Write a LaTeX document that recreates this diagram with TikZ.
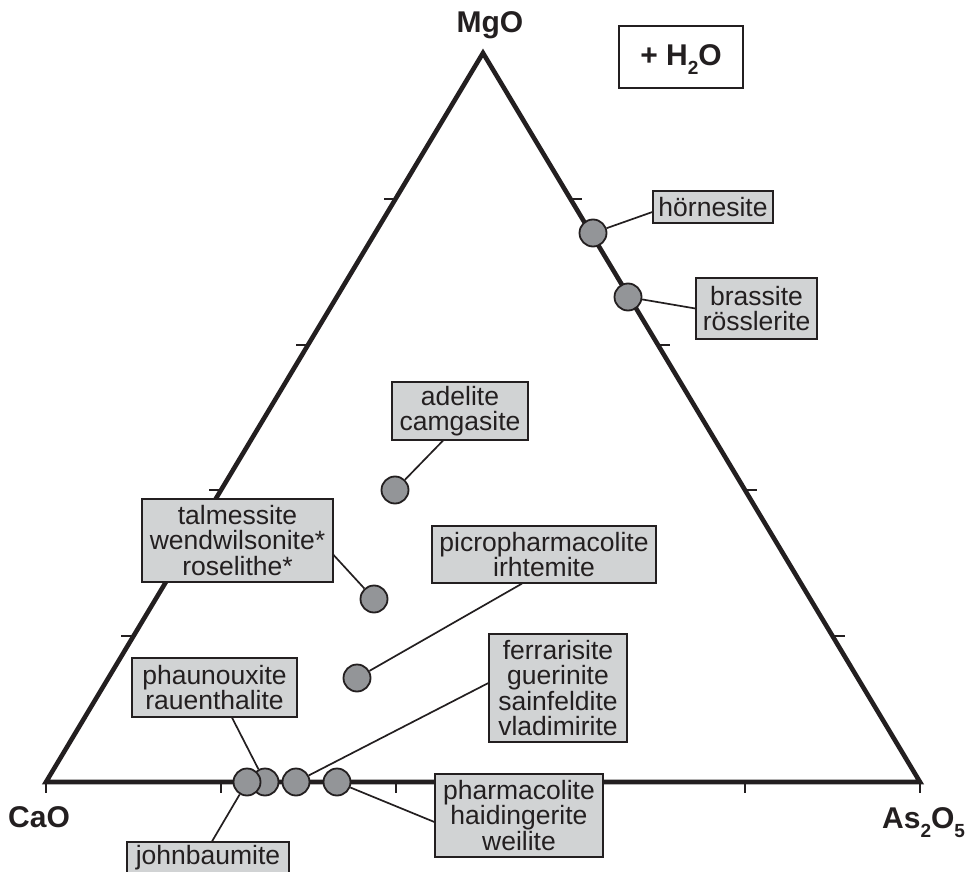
\documentclass[tikz,border=0pt]{standalone}
\usepackage{fontspec}
\setmainfont{Liberation Sans}
\usetikzlibrary{calc}
\definecolor{ink}{HTML}{231F20}
\definecolor{dotgray}{HTML}{939598}
\definecolor{boxgray}{HTML}{D1D3D4}
\newcommand\lowsub[1]{\raisebox{-9pt}{\fontsize{19}{19}\selectfont #1}}
\begin{document}
\begin{tikzpicture}[x=1pt,y=-1pt,
  lbl/.style={draw=ink, fill=boxgray, line width=1.2pt, inner sep=0pt, align=center,
              font=\fontsize{26.5}{25.5}\selectfont, text=ink},
  dot/.style={circle, draw=ink, fill=dotgray, line width=1.8pt, minimum size=27pt, inner sep=0pt},
  lead/.style={draw=ink, line width=1.7pt},
  tickmark/.style={draw=ink, line width=2pt},
  corner/.style={font=\fontsize{30}{30}\selectfont\bfseries, text=ink, inner sep=0pt}]
\useasboundingbox (0,0) rectangle (970,872);
\clip (0,0) rectangle (970,872);
% triangle
\coordinate (C) at (46,782);
\coordinate (A) at (920,782);
\coordinate (M) at (483,53);
\draw[ink, line width=4.6pt, line join=miter] (C) -- (A) -- (M) -- cycle;
\foreach \k in {0,...,5} \draw[tickmark] ($(C)!\k/5!(A)$) -- ++(0,11);
\foreach \k in {1,...,4} {
  \draw[tickmark] ($(C)!\k/5!(M)$) -- ++(-12,0);
  \draw[tickmark] ($(A)!\k/5!(M)$) -- ++(12,0);
}
% corner labels
\node[corner, anchor=base] (mgo) at (490,33) {MgO};
\node[corner, anchor=base west] (cao) at (8,827) {CaO};
\node[corner, anchor=base west] (aso) at (882,828) {As\lowsub{2}O\lowsub{5}};
\node[corner, draw=ink, line width=2pt, fill=white, minimum width=124pt, minimum height=62pt,
      text height=21pt, text depth=3pt] (water) at (681,57) {+ H\lowsub{2}O};
% data points
\node[dot] (hor) at (593,233) {};
\node[dot] (bra) at (628,297) {};
\node[dot] (ade) at (395,490) {};
\node[dot] (tal) at (374,599) {};
\node[dot] (pic) at (357,678) {};
\node[dot] (b4) at (337,782) {};
\node[dot] (b3) at (296,782) {};
\node[dot] (b2) at (265,782) {};
\node[dot] (b1) at (247,782) {};
% labels
\node[lbl, minimum width=120pt, minimum height=32pt] (hornbox) at (713,207) {hörnesite};
\node[lbl, minimum width=121pt, minimum height=61pt] (brabox) at (756.5,308.5) {brassite\\rösslerite};
\node[lbl, minimum width=136pt, minimum height=58pt] (adebox) at (460,411) {adelite\\camgasite};
\node[lbl, minimum width=191pt, minimum height=83pt] (talbox) at (237.5,540.5) {talmessite\\wendwilsonite*\\roselithe*};
\node[lbl, minimum width=224pt, minimum height=57pt] (picbox) at (544,554.5) {picropharmacolite\\irhtemite};
\node[lbl, minimum width=138pt, minimum height=108pt] (ferbox) at (558,688) {ferrarisite\\guerinite\\sainfeldite\\vladimirite};
\node[lbl, minimum width=165pt, minimum height=59pt] (phabox) at (214.5,687.5) {phaunouxite\\rauenthalite};
\node[lbl, minimum width=162pt, minimum height=32pt] (johbox) at (208,858) {johnbaumite};
\node[lbl, minimum width=168pt, minimum height=83pt] (pharbox) at (519,815.5) {pharmacolite\\haidingerite\\weilite};
% leaders
\draw[lead] (hor) -- ([yshift=-5pt]hornbox.west);
\draw[lead] (bra) -- (brabox.west);
\draw[lead] (ade) -- ([xshift=-17pt]adebox.south);
\draw[lead] (tal) -- ([yshift=-14.5pt]talbox.east);
\draw[lead] (pic) -- ([xshift=-22pt]picbox.south);
\draw[lead] (b3) -- ([yshift=5pt]ferbox.west);
\draw[lead] (b2) -- ([xshift=17.5pt]phabox.south);
\draw[lead] (b1) -- ([xshift=4pt]johbox.north);
\draw[lead] (b4) -- ([yshift=-6.5pt]pharbox.west);
\end{tikzpicture}
\end{document}
